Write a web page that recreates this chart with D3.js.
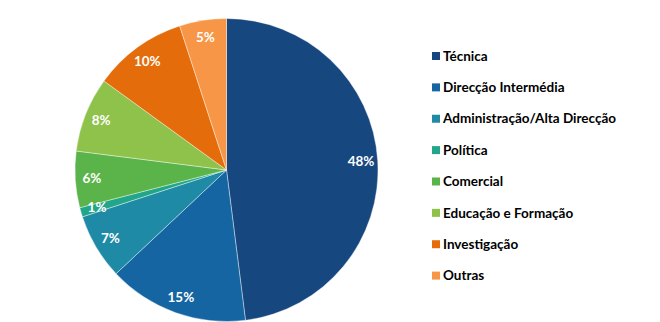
<!DOCTYPE html>
<html><head><meta charset="utf-8">
<script src="https://cdn.jsdelivr.net/npm/d3@7"></script>
<style>body{margin:0;background:#fff;}svg{display:block;}</style>
</head><body>
<svg id="c" width="660" height="322"></svg>
<script>
const categories = ["Técnica","Direcção Intermédia","Administração/Alta Direcção","Política","Comercial","Educação e Formação","Investigação","Outras"];
const values = [48,15,7,1,6,8,10,5];
const colors = ["#17477f","#1565a3","#1f8aa5","#22a68a","#5bb44a","#8fc24b","#e46c0a","#f79646"];

const svg = d3.select("#c");
const cx = 226.5, cy = 170, R = 151.5;
const pie = d3.pie().sort(null).value(d => d.v);
const data = pie(categories.map((c,i)=>({c, v: values[i], col: colors[i]})));
const arc = d3.arc().innerRadius(0).outerRadius(R);
const labelArc = d3.arc().innerRadius(R*0.89).outerRadius(R*0.89);
const total = d3.sum(values);
const g = svg.append("g").attr("transform",`translate(${cx},${cy})`);
g.selectAll("path").data(data).join("path")
  .attr("d", arc).attr("fill", d=>d.data.col)
  .attr("stroke","#fff").attr("stroke-width",0.4);
g.selectAll("text").data(data).join("text")
  .attr("transform", d=>`translate(${labelArc.centroid(d)})`)
  .attr("text-anchor","middle").attr("dy","0.35em")
  .attr("fill","#fff").attr("font-family","Lato, 'Open Sans', sans-serif")
  .attr("font-weight","bold").attr("font-size",13.5)
  .text(d=>Math.round(d.data.v/total*100)+"%");

const leg = svg.append("g");
const y = d3.scalePoint().domain(categories).range([56,275.6]);
const li = leg.selectAll("g").data(categories).join("g")
  .attr("transform", d=>`translate(432,${y(d)})`);
li.append("rect").attr("x",0).attr("y",-4).attr("width",8).attr("height",8)
  .attr("fill",(d,i)=>colors[i]);
li.append("text").attr("x",11).attr("dy","0.35em")
  .attr("font-family","Lato, 'Open Sans', sans-serif").attr("font-weight","bold")
  .attr("font-size",13.5).attr("fill","#000").text(d=>d);
</script>
</body></html>
